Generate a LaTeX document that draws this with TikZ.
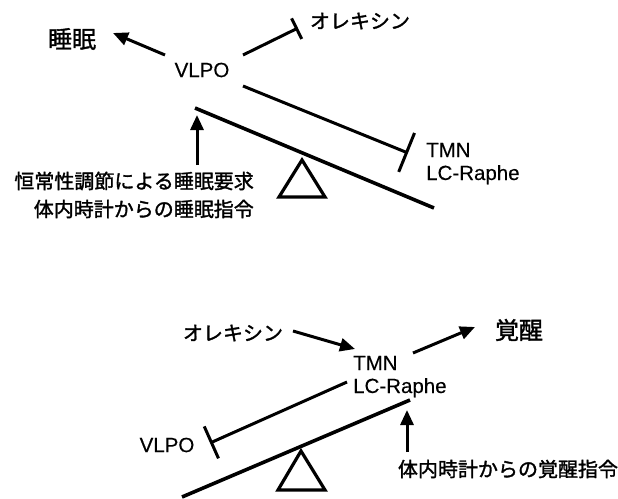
\documentclass[tikz,border=0pt]{standalone}
\usepackage{fontspec}
\setmainfont{Liberation Sans}[FakeBold=0.3]
\newfontfamily\jp{Noto Sans CJK JP}[FakeBold=1.5]
\usetikzlibrary{arrows.meta}
\tikzset{
  lat/.style={inner sep=0pt, font=\fontsize{20.5}{24}\selectfont},
  jpt/.style={inner sep=0pt, font=\jp\fontsize{20}{24}\selectfont},
  jpbig/.style={inner sep=0pt, font=\jp\fontsize{24}{28}\selectfont},
  conn/.style={line width=3pt},
  arr/.style={conn, -{Triangle[length=15pt,width=13pt]}},
  beam/.style={line width=3.6pt},
  fulcrum/.style={line width=3.2pt, line join=miter},
}
\begin{document}
\begin{tikzpicture}[x=1pt,y=-1pt]
\useasboundingbox (0,0) rectangle (618,498);
% ---------------- top diagram ----------------
\node[jpbig] (sleep) at (72,39) {睡眠};
\node[lat] (vlpoA) at (202,70) {VLPO};
\node[jpt] (orexA) at (360,21) {オレキシン};
\node[lat, anchor=base west] (tmnA) at (426,157) {TMN};
\node[lat, anchor=base west] (lcA) at (426,180) {LC-Raphe};
\node[jpt, anchor=east] (needA) at (254,181) {恒常性調節による睡眠要求};
\node[jpt, anchor=east] (clockA) at (254,209) {体内時計からの睡眠指令};

\coordinate (a1s) at (165,55);  \coordinate (a1e) at (113,33);
\coordinate (b1s) at (243,55);  \coordinate (b1e) at (298,28);
\coordinate (c1s) at (243,86);  \coordinate (c1e) at (408,153);
\coordinate (beamAl) at (195,108); \coordinate (beamAr) at (434,208);
\coordinate (upAs) at (197,165); \coordinate (upAe) at (197,115);
\coordinate (triA1) at (279,197); \coordinate (triA2) at (325,197); \coordinate (triA3) at (302,160);

\draw[arr] (a1s) -- (a1e);
\draw[conn, -{Bar[width=23pt,line width=3pt]}] (b1s) -- (b1e);
\draw[conn, -{Bar[width=42pt,line width=3pt]}] (c1s) -- (c1e);
\draw[beam] (beamAl) -- (beamAr);
\draw[arr] (upAs) -- (upAe);
\draw[fulcrum] (triA1) -- (triA2) -- (triA3) -- cycle;

% ---------------- bottom diagram ----------------
\node[jpt] (orexB) at (233,333) {オレキシン};
\node[lat, anchor=base west] (tmnB) at (353,370) {TMN};
\node[lat, anchor=base west] (lcB) at (353,393) {LC-Raphe};
\node[jpbig] (wake) at (519,330) {覚醒};
\node[lat] (vlpoB) at (167,445) {VLPO};
\node[jpt] (clockB) at (508,469) {体内時計からの覚醒指令};

\coordinate (a2s) at (293,331); \coordinate (a2e) at (355,349);
\coordinate (b2s) at (413,353); \coordinate (b2e) at (475,327);
\coordinate (c2s) at (347,382); \coordinate (c2e) at (210,443);
\coordinate (beamBl) at (182,497); \coordinate (beamBr) at (410,400);
\coordinate (upBs) at (407,452); \coordinate (upBe) at (407,410);
\coordinate (triB1) at (278,490); \coordinate (triB2) at (325,490); \coordinate (triB3) at (301,451);

\draw[arr] (a2s) -- (a2e);
\draw[arr] (b2s) -- (b2e);
\draw[conn, -{Bar[width=35pt,line width=3pt]}] (c2s) -- (c2e);
\draw[beam] (beamBl) -- (beamBr);
\draw[arr] (upBs) -- (upBe);
\draw[fulcrum] (triB1) -- (triB2) -- (triB3) -- cycle;
\end{tikzpicture}
\end{document}
